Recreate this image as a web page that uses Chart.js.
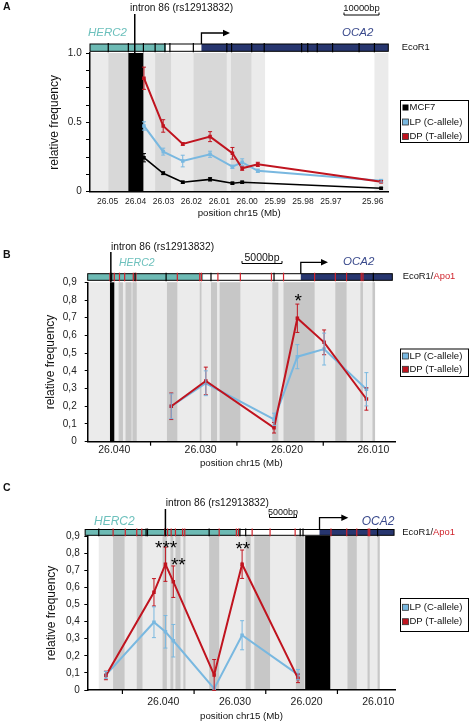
<!DOCTYPE html>
<html>
<head>
<meta charset="utf-8">
<script src="https://cdn.jsdelivr.net/npm/chart.js@4.4.1/dist/chart.umd.min.js"></script>
<style>
  html, body { margin: 0; padding: 0; background: #fff; }
  #wrap { position: relative; width: 470px; height: 722px; overflow: hidden; }
  canvas { position: absolute; left: 0; top: 0; }
</style>
</head>
<body>
<div id="wrap">
  <canvas id="panelA" width="470" height="722"></canvas>
  <canvas id="panelB" width="470" height="722"></canvas>
  <canvas id="panelC" width="470" height="722"></canvas>
</div>
<script>
const FONT = "'Liberation Sans', Arial, sans-serif";
const RED = "#c0141f";
const BLUE = "#79b8e0";
const TEAL = "#6dbab4";
const NAVY = "#27366f";
const SITE_RED = "#d0232c";
const LIGHT = "#ebebeb";
const MID = "#d8d8d8";
const DARK = "#c7c7c7";

// ---------- panel A : EcoR1 fragments ----------
const posA = [26.0370, 26.0301, 26.0231, 26.0133, 26.0053, 26.0018, 25.9962, 25.9520];
const posMcf7A = [26.0370, 26.0301, 26.0231, 26.0133, 26.0053, 26.0018, 25.9520];
const mcf7A = [0.245, 0.133, 0.068, 0.089, 0.061, 0.068, 0.025];
const mcf7ErrA = [0.03, 0.01, 0.008, 0.012, 0.008, 0.008, 0.006];
const lpA = [0.474, 0.289, 0.221, 0.270, 0.180, 0.212, 0.151, 0.079];
const lpErrA = [0.03, 0.025, 0.042, 0.022, 0.012, 0.025, 0.012, 0.01];
const dpA = [0.818, 0.474, 0.344, 0.397, 0.277, 0.169, 0.197, 0.072];
const dpErrA = [0.08, 0.045, 0.01, 0.036, 0.042, 0.015, 0.015, 0.008];
const xTicksA = [26.05, 26.04, 26.03, 26.02, 26.01, 26.00, 25.99, 25.98, 25.97, 25.955];
const xLabelsA = ["26.05", "26.04", "26.03", "26.02", "26.01", "26.00", "25.99", "25.98", "25.97", "25.96"];
const yTicksA = [0, 0.125, 0.25, 0.375, 0.5, 0.625, 0.75, 0.875, 1];
const yLabelsA = ["0", "", "", "", "0.5", "", "", "", "1.0"];
const lightA = [[26.0563, 26.0498], [26.0372, 26.0330], [26.0273, 26.0193], [26.0073, 26.0059], [25.9984, 25.9936], [25.9544, 25.9494]];
const midA = [[26.0498, 26.0426], [26.0330, 26.0273], [26.0193, 26.0073], [26.0059, 25.9984]];
const blackA = [[26.0426, 26.0372]];
const ecoA = [26.0498, 26.0426, 26.0372, 26.0330, 26.0295, 26.0277, 26.0193, 26.0073, 26.0056, 25.9984, 25.9939, 25.9805, 25.9783, 25.9749, 25.9694, 25.9599, 25.9544];
const apoA = [];

// ---------- panel B : EcoR1/Apo1 fragments ----------
const posB = [26.0334, 26.0294, 26.0215, 26.0188, 26.0157, 26.0108];
const lpB = [0.20, 0.33, 0.126, 0.48, 0.523, 0.296];
const lpErrB = [0.07, 0.07, 0.035, 0.068, 0.09, 0.094];
const dpB = [0.20, 0.343, 0.079, 0.697, 0.561, 0.241];
const dpErrB = [0.075, 0.078, 0.03, 0.08, 0.07, 0.063];
const xTicksB = [26.040, 26.030, 26.020, 26.010];
const xLabelsB = ["26.040", "26.030", "26.020", "26.010"];
const xMarksB = [26.0358, 26.0258, 26.0158];
const yTicksB = [0, 0.1, 0.2, 0.3, 0.4, 0.5, 0.6, 0.7, 0.8, 0.9];
const yLabelsB = ["0", "0,1", "0,2", "0,3", "0,4", "0,5", "0,6", "0,7", "0,8", "0,9"];
const lightB = [[26.0431, 26.0098]];
const darkB = [[26.0395, 26.0390], [26.0387, 26.0380], [26.0379, 26.0374], [26.0339, 26.0327], [26.0301, 26.0299], [26.0288, 26.0281], [26.0278, 26.0254], [26.0217, 26.0210], [26.0204, 26.0168], [26.0144, 26.0131], [26.0115, 26.0112], [26.0101, 26.0098]];
const blackB = [[26.0405, 26.0400]];
const ecoB = [26.0403, 26.0376, 26.0340, 26.0288, 26.0215, 26.0100];
const apoB = [26.0405, 26.0400, 26.0394, 26.0388, 26.0378, 26.0375, 26.0327, 26.0301, 26.0299, 26.0280, 26.0254, 26.0218, 26.0204, 26.0168, 26.0144, 26.0131, 26.0114, 26.0112];
const starsB = [[26.0187, 0.819, "*"]];

// ---------- panel C : EcoR1/Apo1 fragments, MCF7 ----------
const posC = [26.0480, 26.0413, 26.0397, 26.0386, 26.0329, 26.0290, 26.0212];
const lpC = [0.088, 0.396, 0.34, 0.288, 0.008, 0.32, 0.09];
const lpErrC = [0.02, 0.09, 0.095, 0.095, 0, 0.085, 0.03];
const dpC = [0.085, 0.571, 0.735, 0.633, 0.088, 0.735, 0.068];
const dpErrC = [0.025, 0.08, 0.1, 0.092, 0.09, 0.083, 0.025];
const xTicksC = [26.040, 26.030, 26.020, 26.010];
const xLabelsC = ["26.040", "26.030", "26.020", "26.010"];
const xMarksC = [26.0457, 26.0357, 26.0257, 26.0157];
const lightC = [[26.0490, 26.0098]];
const darkC = [[26.0470, 26.0454], [26.0437, 26.0429], [26.0401, 26.0395], [26.0390, 26.0386], [26.0383, 26.0376], [26.0372, 26.0369], [26.0336, 26.0322], [26.0285, 26.0278], [26.0273, 26.0251], [26.0215, 26.0203], [26.0143, 26.0130], [26.0115, 26.0112], [26.0101, 26.0098]];
const blackC = [[26.0202, 26.0167]];
const ecoC = [26.0490, 26.0424, 26.0422, 26.0397, 26.0336, 26.0293, 26.0285, 26.0209, 26.0205, 26.0101];
const apoC = [26.0470, 26.0453, 26.0437, 26.0430, 26.0398, 26.0394, 26.0389, 26.0383, 26.0373, 26.0370, 26.0322, 26.0298, 26.0295, 26.0276, 26.0251, 26.0216, 26.0166, 26.0144, 26.0130, 26.0114, 26.0112];
const starsC = [[26.0396, 0.857, "***"], [26.0379, 0.754, "**"], [26.0289, 0.847, "**"]];

Chart.defaults.font.family = FONT;

function series(label, pos, vals, errs, color, width) {
  return {
    label,
    errors: errs,
    data: pos.map((x, i) => ({ x, y: vals[i] })),
    borderColor: color,
    backgroundColor: color,
    borderWidth: width,
    pointStyle: "rect",
    pointRadius: 2.5,
    pointBorderWidth: 0,
    pointBackgroundColor: color,
    tension: 0,
  };
}

function txt(ctx, s, x, y, size, opts = {}) {
  ctx.font = `${opts.style || ""} ${opts.weight || ""} ${size}px ${FONT}`;
  ctx.fillStyle = opts.color || "#111";
  ctx.textAlign = opts.align || "left";
  ctx.textBaseline = "middle";
  ctx.fillText(s, x, y);
}

function makeTrack(cfg) {
  return {
    id: "track" + cfg.name,
    beforeDraw(chart) {
      const { ctx, chartArea: a, scales: { x } } = chart;
      ctx.save();
      cfg.bands.forEach(([list, color]) => {
        ctx.fillStyle = color;
        list.forEach(([s, e]) => {
          const x1 = x.getPixelForValue(s), x2 = x.getPixelForValue(e);
          ctx.fillRect(Math.min(x1, x2), a.top, Math.abs(x2 - x1), a.bottom - a.top);
        });
      });
      ctx.restore();
    },
    afterDatasetsDraw(chart) {
      const { ctx, scales: { y } } = chart;
      ctx.save();
      chart.data.datasets.forEach((ds, i) => {
        const meta = chart.getDatasetMeta(i);
        ctx.strokeStyle = ds.borderColor;
        ctx.lineWidth = 1;
        meta.data.forEach((pt, j) => {
          const e = ds.errors[j];
          if (!e) return;
          const v = ds.data[j].y;
          const t = y.getPixelForValue(v + e), b = y.getPixelForValue(v - e);
          ctx.beginPath();
          ctx.moveTo(pt.x, t); ctx.lineTo(pt.x, b);
          ctx.moveTo(pt.x - 2, t); ctx.lineTo(pt.x + 2, t);
          ctx.moveTo(pt.x - 2, b); ctx.lineTo(pt.x + 2, b);
          ctx.stroke();
        });
      });
      ctx.restore();
    },
    afterDraw(chart) {
      const { ctx, chartArea: a, scales: { x, y } } = chart;
      const px = (v) => x.getPixelForValue(v);
      ctx.save();

      // panel letter
      txt(ctx, cfg.name, 3, cfg.letterY, 10.5, { weight: "bold" });

      // gene bar
      const bt = cfg.barTop, bh = cfg.barBottom - cfg.barTop;
      cfg.genes.forEach(([s, e, color]) => {
        ctx.fillStyle = color;
        ctx.fillRect(Math.min(px(s), px(e)), bt, Math.abs(px(e) - px(s)), bh);
      });
      const gx0 = px(cfg.genes[0][0]), gx1 = px(cfg.genes[cfg.genes.length - 1][1]);
      ctx.strokeStyle = "#000";
      ctx.lineWidth = 1;
      ctx.strokeRect(gx0, bt, gx1 - gx0, bh);
      const site = (list, color) => {
        ctx.strokeStyle = color;
        ctx.lineWidth = 1.2;
        list.forEach((v) => {
          ctx.beginPath();
          ctx.moveTo(px(v), bt - 1);
          ctx.lineTo(px(v), bt + bh + 1);
          ctx.stroke();
        });
      };
      site(cfg.apo, SITE_RED);
      site(cfg.eco, "#000");

      // intron 86 marker
      const ix = px(cfg.intron.mb);
      ctx.strokeStyle = "#000";
      ctx.lineWidth = 1.5;
      ctx.beginPath();
      ctx.moveTo(ix, cfg.intron.top);
      ctx.lineTo(ix, a.top);
      ctx.stroke();
      txt(ctx, "intron 86 (rs12913832)", cfg.intron.textX, cfg.intron.textY, 10.2);

      // gene names
      txt(ctx, "HERC2", cfg.herc2.x, cfg.herc2.y, cfg.herc2.size, { style: "italic", color: "#6cc0bc" });
      txt(ctx, "OCA2", cfg.oca2.x, cfg.oca2.y, cfg.oca2.size, { style: "italic", color: "#3a4a8c" });

      // transcription start arrow
      const ax = px(cfg.arrow.mb);
      ctx.strokeStyle = "#000";
      ctx.lineWidth = 1.3;
      ctx.beginPath();
      ctx.moveTo(ax, bt);
      ctx.lineTo(ax, cfg.arrow.y);
      ctx.lineTo(cfg.arrow.tip - 6, cfg.arrow.y);
      ctx.stroke();
      ctx.fillStyle = "#000";
      ctx.beginPath();
      ctx.moveTo(cfg.arrow.tip, cfg.arrow.y);
      ctx.lineTo(cfg.arrow.tip - 7, cfg.arrow.y - 3.2);
      ctx.lineTo(cfg.arrow.tip - 7, cfg.arrow.y + 3.2);
      ctx.closePath();
      ctx.fill();

      // scale bar
      const sb = cfg.scaleBar;
      txt(ctx, sb.text, sb.cx, sb.textY, sb.size, { align: "center" });
      ctx.strokeStyle = "#000";
      ctx.lineWidth = 1;
      ctx.beginPath();
      ctx.moveTo(sb.cx - sb.w / 2, sb.barY - 2.5);
      ctx.lineTo(sb.cx - sb.w / 2, sb.barY);
      ctx.lineTo(sb.cx + sb.w / 2, sb.barY);
      ctx.lineTo(sb.cx + sb.w / 2, sb.barY - 2.5);
      ctx.stroke();

      // enzyme label
      let ex = cfg.enzyme.x;
      cfg.enzyme.parts.forEach(([s, color]) => {
        txt(ctx, s, ex, cfg.enzyme.y, 9.4, { color });
        ex += ctx.measureText(s).width;
      });

      // x tick marks (between labels)
      ctx.strokeStyle = "#000";
      ctx.lineWidth = 1.2;
      cfg.xMarks.forEach((v) => {
        ctx.beginPath();
        ctx.moveTo(px(v), a.bottom);
        ctx.lineTo(px(v), a.bottom + 4);
        ctx.stroke();
      });

      // significance stars
      cfg.stars.forEach(([mx, my, s]) => {
        txt(ctx, s, px(mx), y.getPixelForValue(my) + 5, 19, { align: "center", color: "#000" });
      });

      // legend
      const lg = cfg.legend;
      ctx.strokeStyle = "#000";
      ctx.lineWidth = 1;
      ctx.strokeRect(lg.x + 0.5, lg.y + 0.5, lg.w, lg.h);
      chart.data.datasets.slice().reverse().forEach((ds, i) => {
        const yy = lg.rows[i];
        ctx.fillStyle = ds.borderColor;
        ctx.fillRect(lg.x + 2.5, yy - 3, 6, 6);
        if (ds.borderColor !== "#000") {
          ctx.strokeStyle = "#333";
          ctx.lineWidth = 0.8;
          ctx.strokeRect(lg.x + 2.5, yy - 3, 6, 6);
        }
        txt(ctx, ds.label, lg.x + 9.5, yy, 9.5);
      });

      ctx.restore();
    },
  };
}

function buildPanel(id, box, xOpt, yOpt, datasets, cfg) {
  const xAxis = {
    type: "linear",
    reverse: true,
    min: xOpt.min,
    max: xOpt.max,
    afterBuildTicks: (s) => { s.ticks = xOpt.ticks.map((v) => ({ value: v })); },
    afterFit: (s) => { s.height = box.xh; s.paddingLeft = 0; s.paddingRight = 0; },
    ticks: {
      autoSkip: false, maxRotation: 0, color: "#222",
      font: { size: xOpt.fontSize }, padding: xOpt.labelPad,
      callback: (v, i) => xOpt.labels[i],
    },
    grid: { display: false, drawTicks: false },
    border: { display: true, color: "#000", width: 1.5 },
    title: {
      display: true, text: "position chr15 (Mb)", color: "#111",
      font: { size: 9.7, lineHeight: 1 }, padding: { top: 0, bottom: xOpt.titlePad },
    },
  };
  const yAxis = {
    type: "linear",
    min: 0,
    max: yOpt.max,
    afterBuildTicks: (s) => { s.ticks = yOpt.ticks.map((v) => ({ value: v })); },
    afterFit: (s) => { s.width = box.left - 40; s.paddingTop = 0; s.paddingBottom = 0; },
    ticks: {
      autoSkip: false, color: "#222", font: { size: 10 }, padding: yOpt.labelPad,
      callback: (v, i) => yOpt.labels[i],
    },
    grid: {
      display: true, drawOnChartArea: false, drawTicks: true,
      tickLength: yOpt.tickLen, color: "#000", tickColor: "#000", lineWidth: 1,
    },
    border: { display: true, color: "#000", width: 1.5 },
    title: {
      display: true, text: "relative frequency", color: "#111",
      font: { size: 12, lineHeight: 1 }, padding: { top: yOpt.titlePad, bottom: 0 },
    },
  };
  return new Chart(document.getElementById(id), {
    type: "line",
    data: { datasets },
    options: {
      responsive: false,
      animation: false,
      events: [],
      layout: {
        padding: { left: 40, right: 470 - box.right, top: box.top, bottom: 722 - box.bottom - box.xh },
      },
      plugins: { legend: { display: false }, tooltip: { enabled: false } },
      scales: { x: xAxis, y: yAxis },
    },
    plugins: [makeTrack(cfg)],
  });
}

// Panel A
buildPanel(
  "panelA",
  { left: 90, right: 388.3, top: 53, bottom: 191.7, xh: 30 },
  { min: 25.94943, max: 26.05634, ticks: xTicksA, labels: xLabelsA, fontSize: 8.5, labelPad: 4.6, titlePad: 3.5 },
  { max: 1, ticks: yTicksA, labels: yLabelsA, tickLen: 4, labelPad: 4.3, titlePad: 9 },
  [
    series("DP (T-allele)", posA, dpA, dpErrA, RED, 2),
    series("LP (C-allele)", posA, lpA, lpErrA, BLUE, 2),
    series("MCF7", posMcf7A, mcf7A, mcf7ErrA, "#000", 1.6),
  ],
  {
    name: "A", letterY: 7,
    bands: [[lightA, LIGHT], [midA, MID], [blackA, "#000"]],
    barTop: 44, barBottom: 51.3,
    genes: [[26.05634, 26.0291, TEAL], [26.0291, 26.0164, "#fff"], [26.0164, 25.94943, NAVY]],
    eco: ecoA, apo: apoA,
    intron: { mb: 26.0403, top: 14, textX: 130, textY: 8 },
    herc2: { x: 88, y: 33, size: 11.5 },
    oca2: { x: 342, y: 33, size: 11.5 },
    arrow: { mb: 26.0164, y: 33, tip: 230 },
    scaleBar: { text: "10000bp", cx: 361.5, textY: 8, barY: 15, w: 35, size: 9.4 },
    enzyme: { x: 401.7, y: 47, parts: [["EcoR1", "#111"]] },
    xMarks: [],
    stars: [],
    legend: { x: 400, y: 100, w: 68, h: 42, rows: [107.5, 122, 136.5] },
  }
);

// Panel B
buildPanel(
  "panelB",
  { left: 87.7, right: 395, top: 282.3, bottom: 441.7, xh: 30 },
  { min: 26.00749, max: 26.04308, ticks: xTicksB, labels: xLabelsB, fontSize: 10.5, labelPad: 2.6, titlePad: 3.5 },
  { max: 0.9, ticks: yTicksB, labels: yLabelsB, tickLen: 3, labelPad: 8, titlePad: 5 },
  [
    series("DP (T-allele)", posB, dpB, dpErrB, RED, 2),
    series("LP (C-allele)", posB, lpB, lpErrB, BLUE, 2),
  ],
  {
    name: "B", letterY: 255.5,
    bands: [[lightB, LIGHT], [darkB, DARK], [blackB, "#000"]],
    barTop: 273.7, barBottom: 280.3,
    genes: [[26.04308, 26.0297, TEAL], [26.0297, 26.0184, "#fff"], [26.0184, 26.0078, NAVY]],
    eco: ecoB, apo: apoB,
    intron: { mb: 26.0404, top: 252, textX: 111, textY: 246.7 },
    herc2: { x: 119, y: 262.7, size: 10.5 },
    oca2: { x: 343, y: 262, size: 11.5 },
    arrow: { mb: 26.0184, y: 262.3, tip: 328 },
    scaleBar: { text: "5000bp", cx: 262, textY: 258.3, barY: 263.5, w: 40, size: 10.5 },
    enzyme: { x: 402.7, y: 276.5, parts: [["EcoR1/", "#111"], ["Apo1", SITE_RED]] },
    xMarks: xMarksB,
    stars: starsB,
    legend: { x: 400, y: 348.5, w: 68, h: 27.5, rows: [356, 369.3] },
  }
);

// Panel C
buildPanel(
  "panelC",
  { left: 87.3, right: 395.7, top: 536, bottom: 690, xh: 32 },
  { min: 26.00757, max: 26.0506, ticks: xTicksC, labels: xLabelsC, fontSize: 10.5, labelPad: 6, titlePad: 0.5 },
  { max: 0.9, ticks: yTicksB, labels: yLabelsB, tickLen: 3, labelPad: 4.5, titlePad: 6 },
  [
    series("DP (T-allele)", posC, dpC, dpErrC, RED, 2),
    series("LP (C-allele)", posC, lpC, lpErrC, BLUE, 2),
  ],
  {
    name: "C", letterY: 488.3,
    bands: [[lightC, LIGHT], [darkC, DARK], [blackC, "#000"]],
    barTop: 529.5, barBottom: 535.3,
    genes: [[26.0509, 26.0293, TEAL], [26.0293, 26.0182, "#fff"], [26.0182, 26.0078, NAVY]],
    eco: ecoC, apo: apoC,
    intron: { mb: 26.0397, top: 509, textX: 165.7, textY: 503.3 },
    herc2: { x: 94, y: 521.7, size: 12 },
    oca2: { x: 361.7, y: 521.7, size: 12 },
    arrow: { mb: 26.0182, y: 517.7, tip: 348.3 },
    scaleBar: { text: "5000bp", cx: 283, textY: 512.5, barY: 517.5, w: 27, size: 9 },
    enzyme: { x: 402.3, y: 532, parts: [["EcoR1/", "#111"], ["Apo1", SITE_RED]] },
    xMarks: xMarksC,
    stars: starsC,
    legend: { x: 400, y: 598, w: 68, h: 33, rows: [607.3, 621.7] },
  }
);
</script>
</body>
</html>
